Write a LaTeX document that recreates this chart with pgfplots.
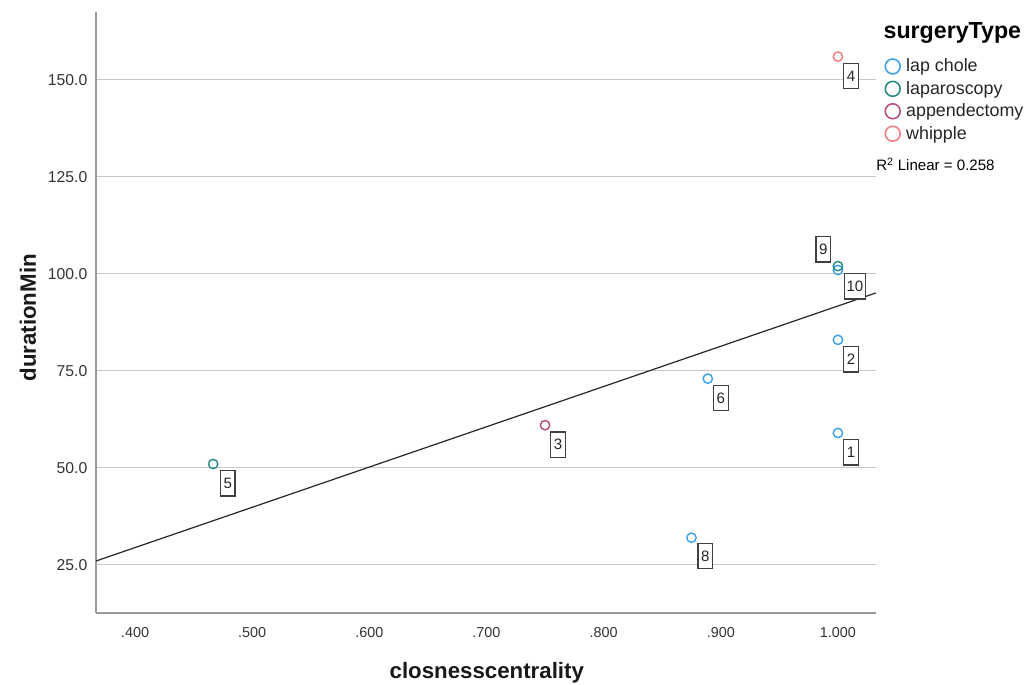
\documentclass[border=0pt]{standalone}
\usepackage{pgfplots}
\pgfplotsset{compat=1.18}
\usepackage{fontspec}
\setmainfont{Liberation Sans}
\definecolor{cChole}{HTML}{3FA3EC}
\definecolor{cLapa}{HTML}{2A8C84}
\definecolor{cApp}{HTML}{B5517E}
\definecolor{cWhip}{HTML}{F47F83}
\definecolor{gridc}{HTML}{C8C8C8}
\definecolor{axc}{HTML}{9A9A9A}
\tikzset{lbl/.style={draw=black!75, line width=1pt, fill=white, inner sep=1.5pt, minimum width=11pt, minimum height=19pt, font=\fontsize{11.3}{12}\selectfont, text=black!85}}
\begin{document}
\begin{tikzpicture}
\begin{axis}[anchor=south west, scale only axis,
  width=585pt, height=450.75pt,
  xmin=0.3667, xmax=1.0325, ymin=12.6, ymax=167.5,
  axis x line*=bottom, axis y line*=left,
  axis line style={axc, line width=1.1pt, -},
  xtick={0.4,0.5,0.6,0.7,0.8,0.9,1.0},
  xticklabels={.400,.500,.600,.700,.800,.900,1.000},
  ytick={25,50,75,100,125,150},
  yticklabel style={/pgf/number format/fixed, /pgf/number format/fixed zerofill, /pgf/number format/precision=1, xshift=-3pt, font=\fontsize{11.8}{13}\selectfont},
  /pgf/number format/assume math mode=true,
  ymajorgrids, grid style={gridc, line width=0.9pt},
  major tick length=0pt,
  tick label style={text=black!80},
  xticklabel style={yshift=-7.5pt, font=\fontsize{10.8}{12}\selectfont},
  xlabel={closnesscentrality}, ylabel={durationMin},
  label style={font=\bfseries\fontsize{16.7}{18}\selectfont, text=black!90},
  xlabel style={at={(axis description cs:0.501,-0.0998)}, anchor=center},
  ylabel style={at={(axis description cs:-0.0872,0.491)}, anchor=center},
  clip=false,
  legend style={at={(rel axis cs:1.0115,0.9245)}, anchor=north west, draw=none, fill=none,
    font=\fontsize{13.4}{15}\selectfont, row sep=3.6pt, inner sep=0pt,
    nodes={inner sep=1pt, text=black!85},
    /tikz/every odd column/.append style={column sep=3.5pt}},
  legend cell align=left,
  legend image code/.code={\draw[#1, mark size=5.6pt, line width=1.2pt] plot coordinates {(0pt,0pt)};},
]
\addplot[only marks, mark=o, mark size=3.5pt, line width=1.1pt, cChole]
  coordinates {(1.0,59) (1.0,83) (0.8889,73) (0.875,32) (1.0,101)};
\addlegendentry{lap chole}
\addplot[only marks, mark=o, mark size=3.5pt, line width=1.1pt, cLapa]
  coordinates {(0.4667,51) (1.0,102)};
\addlegendentry{laparoscopy}
\addplot[only marks, mark=o, mark size=3.5pt, line width=1.1pt, cApp]
  coordinates {(0.75,61)};
\addlegendentry{appendectomy}
\addplot[only marks, mark=o, mark size=3.5pt, line width=1.1pt, cWhip]
  coordinates {(1.0,156)};
\addlegendentry{whipple}
\addplot[no marks, black!85, line width=0.9pt, forget plot]
  coordinates {(0.3667,26.0) (1.0325,95.1)};
% point labels
\node[lbl, anchor=north west] at ([shift={(3.8pt,-4.5pt)}]axis cs:1.0,156) {4};
\node[lbl, anchor=north west] at ([shift={(4.5pt,-2.3pt)}]axis cs:1.0,101) {10};
\node[lbl, anchor=south east] at ([shift={(-5pt,2.5pt)}]axis cs:1.0,102) {9};
\node[lbl, anchor=north west] at ([shift={(3.8pt,-4.5pt)}]axis cs:1.0,83) {2};
\node[lbl, anchor=north west] at ([shift={(3.8pt,-4.5pt)}]axis cs:0.8889,73) {6};
\node[lbl, anchor=north west] at ([shift={(3.8pt,-4.5pt)}]axis cs:0.75,61) {3};
\node[lbl, anchor=north west] at ([shift={(5pt,-4.5pt)}]axis cs:0.4667,51) {5};
\node[lbl, anchor=north west] at ([shift={(3.8pt,-4.5pt)}]axis cs:1.0,59) {1};
\node[lbl, anchor=north west] at ([shift={(4.3pt,-3.8pt)}]axis cs:0.875,32) {8};
\end{axis}
\node[anchor=west, font=\bfseries\fontsize{17.4}{19}\selectfont, inner sep=0pt] at ([shift={(590.5pt,435pt)}]current axis.south west) {surgeryType};
\node[anchor=west, font=\fontsize{11.3}{13}\selectfont, inner sep=0pt] at ([shift={(585pt,336.5pt)}]current axis.south west) {R\textsuperscript{2} Linear = 0.258};
\pgfresetboundingbox
\path[use as bounding box] ([shift={(-72pt,-54pt)}]current axis.south west) rectangle ++(769.5pt,513.75pt);
\end{tikzpicture}
\end{document}
